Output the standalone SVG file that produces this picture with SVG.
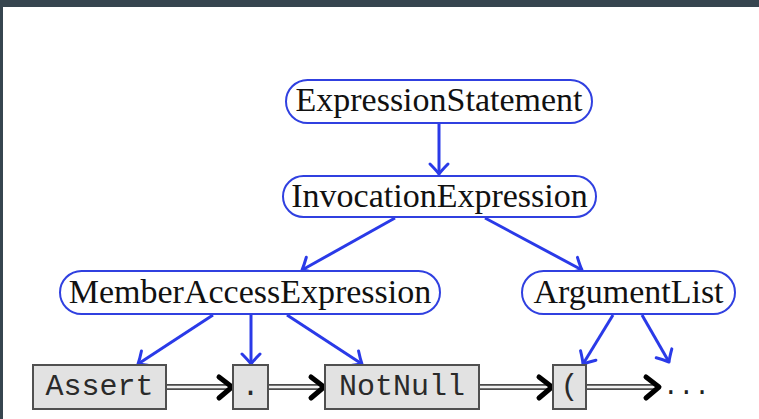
<svg xmlns="http://www.w3.org/2000/svg" width="759" height="419" viewBox="0 0 759 419">
  <style>
    .pill { fill: #ffffff; stroke: #3040e0; stroke-width: 2; }
    .pill-text { font-family: "Liberation Serif", "Times New Roman", serif; font-size: 34px; fill: #111111; text-anchor: middle; }
    .tok { fill: #e2e2e2; stroke: #505050; stroke-width: 2; }
    .tok-text { font-family: "Liberation Mono", "Courier New", monospace; font-size: 30px; fill: #2a2a2a; text-anchor: middle; }
    .edge { stroke: #2a3ae8; stroke-width: 3; fill: none; }
    .dbl-outer { stroke: #4a4a4a; stroke-width: 6; fill: none; }
    .dbl-inner { stroke: #f2f2f2; stroke-width: 2.4; fill: none; }
    .chev { stroke: #000000; stroke-width: 5; fill: none; stroke-linecap: round; stroke-linejoin: round; }
  </style>
  <defs>
    <marker id="vhead" markerUnits="userSpaceOnUse" markerWidth="30" markerHeight="30" viewBox="-15 -15 30 30" refX="0" refY="0" orient="auto" overflow="visible">
      <path d="M-10,-9 Q-4,-3 0,0 Q-4,3 -10,9" stroke="#2a3ae8" stroke-width="3" fill="none" stroke-linecap="round" stroke-linejoin="round"/>
    </marker>
  </defs>

  <!-- window frame -->
  <rect x="0" y="0" width="759" height="419" fill="#ffffff"/>
  <rect x="0" y="0" width="759" height="7" fill="#36454f"/>
  <rect x="0" y="0" width="3" height="419" fill="#36454f"/>

  <!-- syntax tree edges -->
  <g id="connectors">
    <line class="edge" x1="439" y1="123" x2="439" y2="174" marker-end="url(#vhead)"/>
    <line class="edge" x1="395" y1="218" x2="302" y2="270" marker-end="url(#vhead)"/>
    <line class="edge" x1="485" y1="218" x2="582" y2="270" marker-end="url(#vhead)"/>
    <line class="edge" x1="213" y1="315" x2="138" y2="364" marker-end="url(#vhead)"/>
    <line class="edge" x1="251" y1="315" x2="251" y2="364" marker-end="url(#vhead)"/>
    <line class="edge" x1="287" y1="315" x2="362" y2="364" marker-end="url(#vhead)"/>
    <line class="edge" x1="613" y1="315" x2="583" y2="364" marker-end="url(#vhead)"/>
    <line class="edge" x1="642" y1="315" x2="669" y2="362" marker-end="url(#vhead)"/>

    <!-- token sequence arrows -->
    <line class="dbl-outer" x1="167" y1="387" x2="229" y2="387"/>
    <line class="dbl-inner" x1="166" y1="387" x2="229" y2="387"/>
    <path class="chev" d="M219,377 L232,387 L219,398"/>

    <line class="dbl-outer" x1="269" y1="387" x2="321" y2="387"/>
    <line class="dbl-inner" x1="268" y1="387" x2="321" y2="387"/>
    <path class="chev" d="M311,377 L324,387 L311,398"/>

    <line class="dbl-outer" x1="480" y1="387" x2="549" y2="387"/>
    <line class="dbl-inner" x1="479" y1="387" x2="549" y2="387"/>
    <path class="chev" d="M539,377 L552,387 L539,398"/>

    <line class="dbl-outer" x1="587" y1="387" x2="656" y2="387"/>
    <line class="dbl-inner" x1="586" y1="387" x2="656" y2="387"/>
    <path class="chev" d="M646,377 L659,387 L646,398"/>
  </g>

  <!-- tree nodes -->
  <g id="expression-statement">
    <rect class="pill" x="286" y="80" width="306" height="43" rx="21.5"/>
    <text class="pill-text" x="439" y="111">ExpressionStatement</text>
  </g>
  <g id="invocation-expression">
    <rect class="pill" x="283" y="176" width="313" height="41" rx="20.5"/>
    <text class="pill-text" x="439.5" y="207">InvocationExpression</text>
  </g>
  <g id="member-access-expression">
    <rect class="pill" x="60" y="271" width="380" height="43" rx="21.5"/>
    <text class="pill-text" x="250" y="303">MemberAccessExpression</text>
  </g>
  <g id="argument-list">
    <rect class="pill" x="522" y="271" width="213" height="43" rx="21.5"/>
    <text class="pill-text" x="628.5" y="303">ArgumentList</text>
  </g>

  <!-- tokens -->
  <g id="tok-assert">
    <rect class="tok" x="33" y="365" width="133" height="44"/>
    <text class="tok-text" x="99.5" y="395">Assert</text>
  </g>
  <g id="tok-dot">
    <rect class="tok" x="233" y="365" width="35" height="44"/>
    <text class="tok-text" x="250.5" y="395">.</text>
  </g>
  <g id="tok-notnull">
    <rect class="tok" x="325" y="365" width="154" height="44"/>
    <text class="tok-text" x="402" y="395">NotNull</text>
  </g>
  <g id="tok-lparen">
    <rect class="tok" x="553" y="365" width="33" height="44"/>
    <text class="tok-text" x="569.5" y="395">(</text>
  </g>
  <g id="tok-ellipsis">
    <text x="663" y="394" font-family="Liberation Mono, monospace" font-size="26" fill="#222222">...</text>
  </g>
</svg>
